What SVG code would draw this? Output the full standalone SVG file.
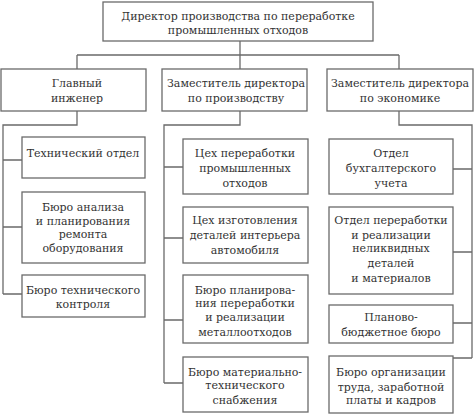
<svg xmlns="http://www.w3.org/2000/svg" width="474" height="414" viewBox="0 0 474 414">
<style>
rect{fill:#fff;stroke:#6a6a6a;stroke-width:1.3}
text{font-family:"DejaVu Serif",serif;font-size:11px;fill:#333;text-anchor:middle}
#connectors path{fill:none;stroke:#6a6a6a;stroke-width:1.3}
</style>
<rect x="0" y="0" width="474" height="414" style="fill:#fff;stroke:none"/>
<g id="connectors">
<path d="M240,41V55M77,55H399M77,55V69M240,55V69M399,55V69"/>
<path d="M77,111V125H3V294M3,160H22M3,227H22M3,294H22"/>
<path d="M240,111V125H164V383M164,167H183M164,238H183M164,320H183M164,383H183"/>
<path d="M399,111V125H472V358M472,169H453M472,252H453M472,323H453M472,358H453"/>
</g>
<g id="director"><rect x="103" y="2" width="270" height="39"/>
<text x="238" y="20">Директор производства по переработке</text><text x="238" y="34">промышленных отходов</text></g>
<g id="chief-engineer"><rect x="1" y="69" width="145" height="42"/>
<text x="77" y="87">Главный</text><text x="77" y="102">инженер</text></g>
<g id="deputy-production"><rect x="162" y="69" width="145" height="42"/>
<text x="236" y="87">Заместитель директора</text><text x="236" y="102">по производству</text></g>
<g id="deputy-economics"><rect x="327" y="69" width="146" height="42"/>
<text x="400" y="87">Заместитель директора</text><text x="400" y="102">по экономике</text></g>

<g id="tech-dept"><rect x="22" y="137" width="123" height="41"/>
<text x="83" y="157">Технический отдел</text></g>
<g id="bureau-analysis"><rect x="22" y="192" width="123" height="71"/>
<text x="83" y="211">Бюро анализа</text><text x="83" y="225">и планирования</text><text x="83" y="238">ремонта</text><text x="83" y="252">оборудования</text></g>
<g id="bureau-tech-control"><rect x="22" y="275" width="123" height="42"/>
<text x="83" y="294">Бюро технического</text><text x="83" y="308">контроля</text></g>

<g id="workshop-recycling"><rect x="183" y="139" width="125" height="55"/>
<text x="245" y="157">Цех переработки</text><text x="245" y="172">промышленных</text><text x="245" y="187">отходов</text></g>
<g id="workshop-interior"><rect x="183" y="207" width="125" height="56"/>
<text x="245" y="224">Цех изготовления</text><text x="245" y="239">деталей интерьера</text><text x="245" y="254">автомобиля</text></g>
<g id="bureau-planning"><rect x="183" y="275" width="125" height="68"/>
<text x="245" y="294">Бюро планирова-</text><text x="245" y="307">ния переработки</text><text x="245" y="321">и реализации</text><text x="245" y="336">металлоотходов</text></g>
<g id="bureau-supply"><rect x="183" y="357" width="125" height="55"/>
<text x="245" y="376">Бюро материально-</text><text x="245" y="389">технического</text><text x="245" y="404">снабжения</text></g>

<g id="accounting"><rect x="329" y="139" width="124" height="55"/>
<text x="391" y="157">Отдел</text><text x="391" y="172">бухгалтерского</text><text x="391" y="187">учета</text></g>
<g id="dept-illiquid"><rect x="329" y="207" width="124" height="87"/>
<text x="391" y="224">Отдел переработки</text><text x="391" y="239">и реализации</text><text x="391" y="252">неликвидных</text><text x="391" y="267">деталей</text><text x="391" y="282">и материалов</text></g>
<g id="budget-bureau"><rect x="329" y="305" width="124" height="38"/>
<text x="391" y="321">Планово-</text><text x="391" y="336">бюджетное бюро</text></g>
<g id="bureau-labor"><rect x="329" y="356" width="124" height="57"/>
<text x="391" y="376">Бюро организации</text><text x="391" y="391">труда, заработной</text><text x="391" y="404">платы и кадров</text></g>
</svg>
